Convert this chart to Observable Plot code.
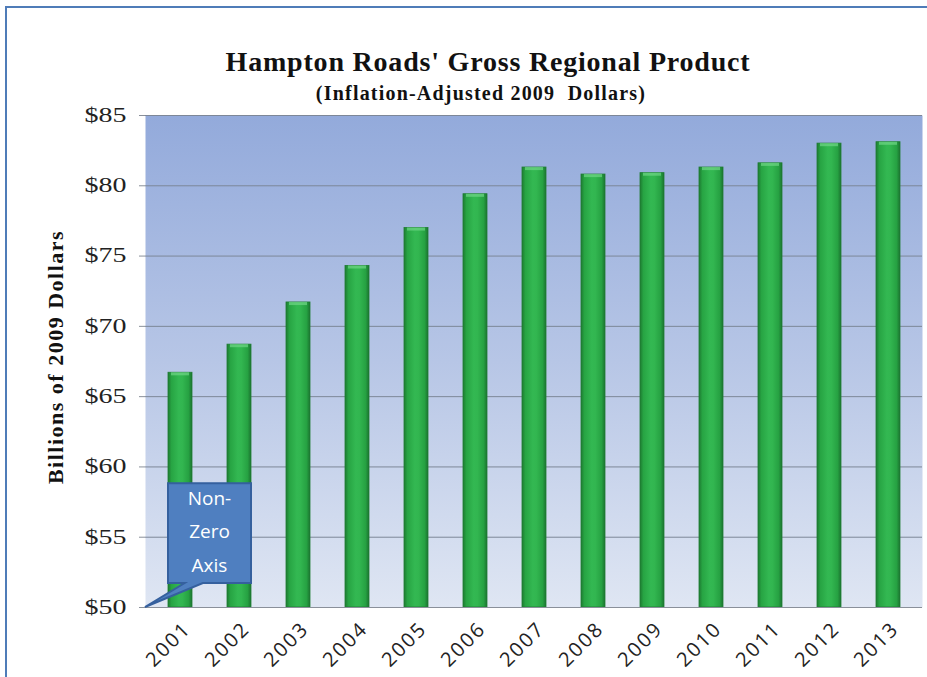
<!DOCTYPE html>
<html><head><meta charset="utf-8">
<script src="https://cdn.jsdelivr.net/npm/d3@7"></script>
<script src="https://cdn.jsdelivr.net/npm/@observablehq/plot@0.6"></script>
<style>
body{margin:0;background:#fff;}
#wrap{position:relative;width:927px;height:677px;overflow:hidden;background:#fff;}
#border{position:absolute;left:5px;top:6px;width:940px;height:700px;border-left:2px solid #4f7cb8;border-top:2px solid #4f7cb8;}
#title{position:absolute;left:0;width:976px;top:46px;text-align:center;font:bold 28px "Liberation Serif",serif;letter-spacing:0.8px;color:#111;white-space:nowrap;line-height:32px;}
#subtitle{position:absolute;left:0;width:962px;top:81px;text-align:center;font:bold 20px "Liberation Serif",serif;letter-spacing:1.2px;color:#111;white-space:nowrap;line-height:24px;}
#ylab{position:absolute;left:56px;top:357px;transform:translate(-50%,-50%) rotate(-90deg);font:bold 22px "Liberation Serif",serif;letter-spacing:1.5px;color:#111;white-space:nowrap;}
#chart{position:absolute;left:0;top:100px;}
#chart svg g[aria-label="x-axis tick label"] text{letter-spacing:2px;}
</style></head>
<body>
<div id="wrap">
  <div id="border"></div>
  <div id="title">Hampton Roads' Gross Regional Product</div>
  <div id="subtitle">(Inflation-Adjusted 2009&nbsp; Dollars)</div>
  <div id="ylab">Billions of 2009 Dollars</div>
  <div id="chart"></div>
</div>
<script>
const years = ["2001","2002","2003","2004","2005","2006","2007","2008","2009","2010","2011","2012","2013"];
const gdp = [66.7, 68.7, 71.7, 74.3, 77.0, 79.4, 81.3, 80.8, 80.9, 81.3, 81.6, 83.0, 83.1];
const yTicks = [50, 55, 60, 65, 70, 75, 80, 85];
const yMin = 50, yMax = 85;
const calloutLines = ["Non-", "Zero", "Axis"];
// callout box in data units
const callout = {x1: "2001", x2: "2002", yTop: 58.8, yBottom: 51.7, tipY: 50};

const data = years.map((y, i) => ({year: y, value: gdp[i]}));

const calloutMark = (index, scales, values, dims) => {
  const g = d3.create("svg:g");
  const bw = scales.x.bandwidth();
  const left = scales.x(callout.x1);
  const right = scales.x(callout.x2) + bw;
  const top = scales.y(callout.yTop);
  const bottom = scales.y(callout.yBottom);
  const tipX = dims.marginLeft;
  const tipY = scales.y(callout.tipY);
  const w = right - left;
  const path = `M${left},${top} H${right} V${bottom} H${left + w*0.42} L${tipX},${tipY} L${left + w*0.2},${bottom} H${left} Z`;
  g.append("path").attr("d", path).attr("fill", "#4f7fc0").attr("stroke", "#35609e").attr("stroke-width", 2);
  const cx = (left + right) / 2;
  const lh = (bottom - top) / 3;
  calloutLines.forEach((t, i) => {
    g.append("text").attr("x", cx).attr("y", top + lh * (i + 0.5))
      .attr("text-anchor", "middle").attr("dominant-baseline", "middle")
      .attr("fill", "#fff").attr("font-family", "'Open Sans', sans-serif").attr("font-size", 19).text(t);
  });
  return g.node();
};

const plot = Plot.plot({
  width: 927,
  height: 577,
  marginLeft: 145,
  marginRight: 5,
  marginTop: 15,
  marginBottom: 70,
  style: {background: "transparent", overflow: "visible"},
  x: {domain: years, paddingInner: 0.6, paddingOuter: 0.3, label: null},
  y: {domain: [yMin, yMax], label: null},
  marks: [
    Plot.frame({fill: "url(#bgGrad)", stroke: null}),
    Plot.gridY(yTicks, {stroke: "#7d8798", strokeOpacity: 1, strokeWidth: 1}),
    Plot.barY(data, {x: "year", y1: yMin, y2: "value", fill: "url(#barGrad)", stroke: "#1f7d33", strokeWidth: 0.8}),
    Plot.barY(data, {x: "year", y1: d => d.value - 0.22, y2: "value", fill: "#6fd686", fillOpacity: 0.7, insetLeft: 3, insetRight: 3}),
    Plot.ruleX([0], {frameAnchor: "left", stroke: "#8a909a"}),
    Plot.ruleY([yMin], {stroke: "#8a909a"}),
    Plot.axisY({ticks: yTicks, tickFormat: d => "$" + d, tickSize: 6, tickPadding: 13, fontSize: 20, fontFamily: "Liberation Serif", stroke: "#8a909a", color: "#222", label: null}),
    Plot.axisX({tickSize: 0, tickRotate: -45, fontSize: 20, fontFamily: "Open Sans", tickPadding: 4, color: "#222", label: null, dx: 7, dy: 14}),
    calloutMark
  ]
});

const svg = d3.select(plot);
// widen y tick labels horizontally to match the stretched reference type
svg.selectAll('g[aria-label="y-axis tick label"] text').each(function() {
  const t = this.getAttribute("transform") || "";
  this.setAttribute("transform", t + " scale(1.4,1)");
});
const defs = svg.insert("defs", ":first-child");
const bg = defs.append("linearGradient").attr("id", "bgGrad").attr("x1", 0).attr("y1", 0).attr("x2", 0).attr("y2", 1);
bg.append("stop").attr("offset", "0%").attr("stop-color", "#93aadb");
bg.append("stop").attr("offset", "50%").attr("stop-color", "#b7c6e6");
bg.append("stop").attr("offset", "100%").attr("stop-color", "#dfe6f3");
const bar = defs.append("linearGradient").attr("id", "barGrad").attr("x1", 0).attr("y1", 0).attr("x2", 1).attr("y2", 0);
[["0%", "#1d7a31"], ["14%", "#27a443"], ["45%", "#33b852"], ["60%", "#32b650"], ["86%", "#26a142"], ["100%", "#1b7330"]]
  .forEach(([o, c]) => bar.append("stop").attr("offset", o).attr("stop-color", c));

document.getElementById("chart").appendChild(plot);
</script>
</body></html>
